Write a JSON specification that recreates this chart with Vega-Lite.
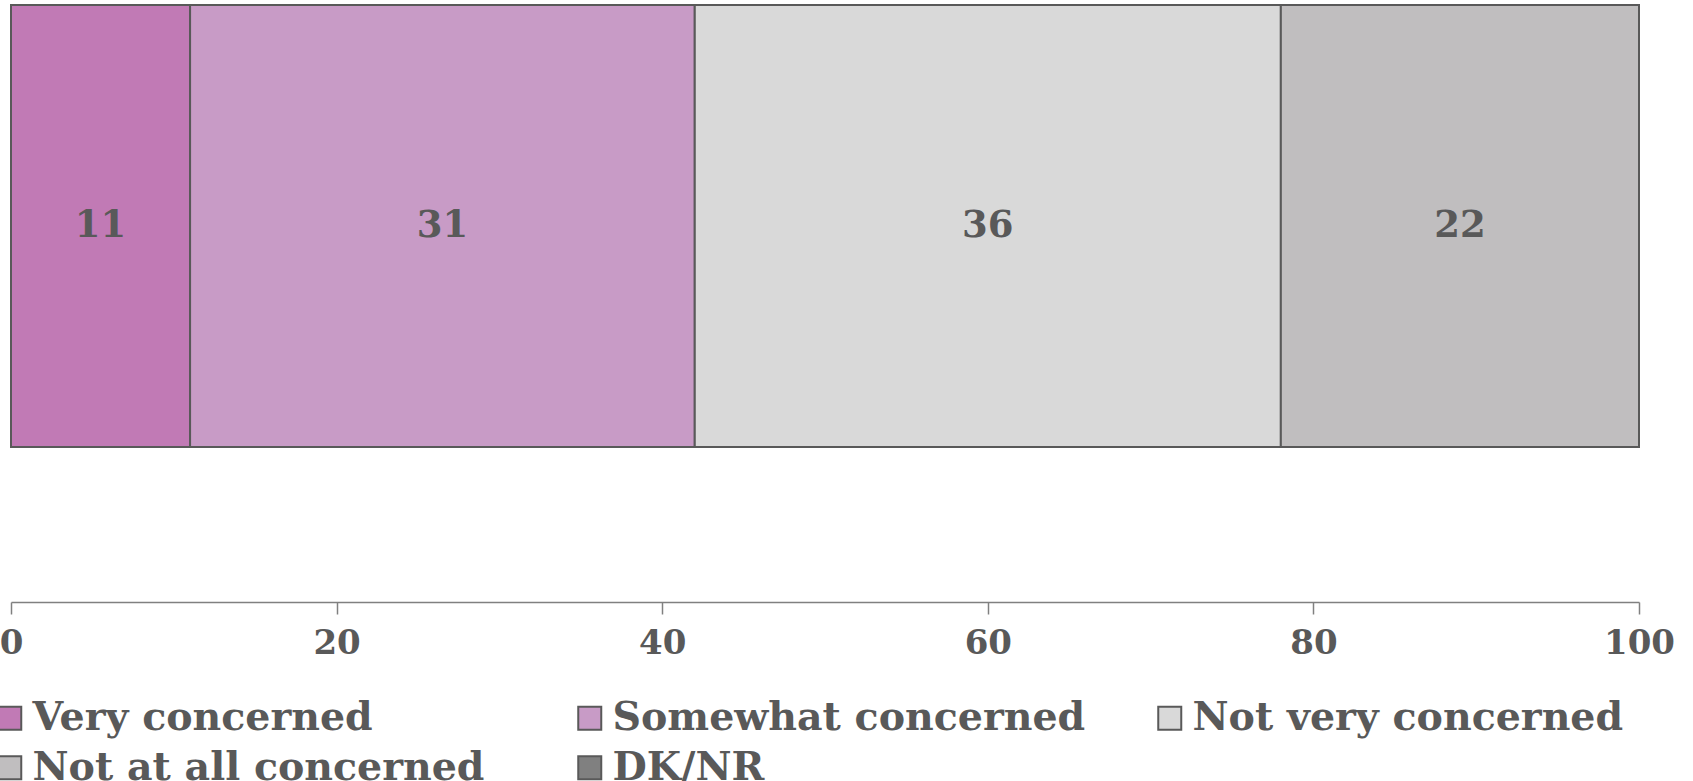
{
  "$schema": "https://vega.github.io/schema/vega-lite/v6.json",
  "autosize": "none",
  "padding": {"left": 11, "top": 5, "right": 54, "bottom": 334},
  "width": 1628,
  "height": 442,
  "background": "#ffffff",
  "data": {"values": [
    {"q": "Q", "answer": "Very concerned", "o": 1, "v": 11},
    {"q": "Q", "answer": "Somewhat concerned", "o": 2, "v": 31},
    {"q": "Q", "answer": "Not very concerned", "o": 3, "v": 36},
    {"q": "Q", "answer": "Not at all concerned", "o": 4, "v": 22}
  ]},
  "transform": [
    {"stack": "v", "groupby": ["q"], "sort": [{"field": "o", "order": "ascending"}], "as": ["x0", "x1"]},
    {"calculate": "(datum.x0 + datum.x1) / 2", "as": "xm"}
  ],
  "encoding": {
    "y": {"field": "q", "type": "nominal", "scale": {"paddingInner": 0, "paddingOuter": 0}, "axis": null}
  },
  "layer": [
    {
      "mark": {"type": "bar", "stroke": "#595959", "strokeWidth": 2},
      "encoding": {
        "x": {"field": "x0", "type": "quantitative", "scale": {"domain": [0, 100], "nice": false},
          "axis": {"values": [0, 20, 40, 60, 80, 100], "title": null, "grid": false, "offset": 155,
            "domainColor": "#808080", "domainWidth": 1.5, "tickColor": "#808080", "tickWidth": 1.5, "tickSize": 12,
            "labelFont": "DejaVu Serif", "labelFontWeight": "bold", "labelFontSize": 34, "labelColor": "#595959",
            "labelPadding": 12, "labelFlush": false, "labelOverlap": false, "labelBound": false}},
        "x2": {"field": "x1"},
        "color": {"field": "answer", "type": "nominal",
          "scale": {"domain": ["Very concerned", "Somewhat concerned", "Not very concerned", "Not at all concerned", "DK/NR"],
                    "range": ["#C17AB5", "#C89BC6", "#D9D9D9", "#C0BEBF", "#808080"]},
          "legend": {"orient": "none", "legendX": -21, "legendY": 693, "direction": "horizontal", "columns": 3,
            "gridAlign": "all", "columnPadding": 64, "rowPadding": 9, "title": null,
            "symbolType": "square", "symbolSize": 529, "symbolStrokeColor": "#595959", "symbolStrokeWidth": 2,
            "symbolOpacity": 1,
            "labelFont": "DejaVu Serif", "labelFontWeight": "bold", "labelFontSize": 39.5, "labelColor": "#595959",
            "labelOffset": 3, "labelLimit": 0, "padding": 0}}
      }
    },
    {
      "mark": {"type": "text", "font": "DejaVu Serif", "fontWeight": "bold", "fontSize": 37, "color": "#595959"},
      "encoding": {
        "x": {"field": "xm", "type": "quantitative"},
        "text": {"field": "v", "type": "quantitative"}
      }
    }
  ],
  "config": {"view": {"stroke": null}}
}
